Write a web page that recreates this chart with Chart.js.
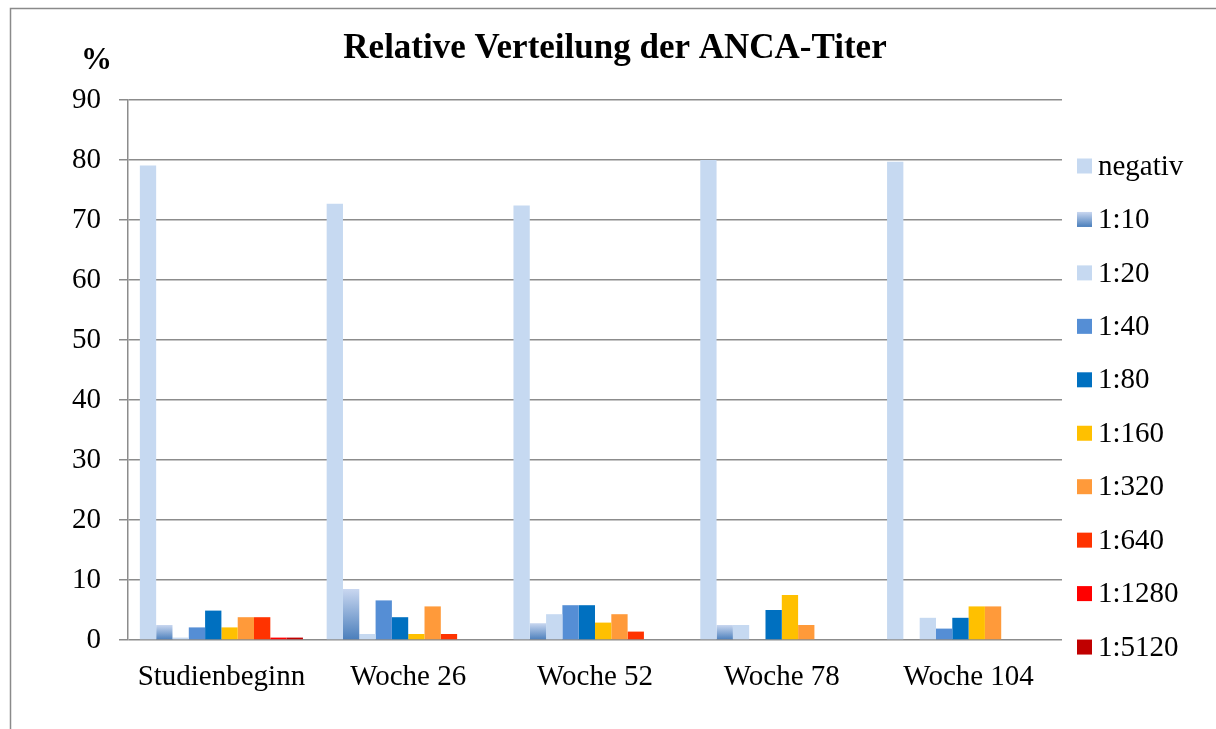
<!DOCTYPE html>
<html>
<head>
<meta charset="utf-8">
<title>Relative Verteilung der ANCA-Titer</title>
<script src="https://cdn.jsdelivr.net/npm/chart.js@4.4.1/dist/chart.umd.min.js"></script>
<style>
  html, body { margin: 0; padding: 0; background: #fff; }
  #chart { display: block; }
</style>
</head>
<body>
<canvas id="chart" width="1216" height="729"></canvas>
<script>
// Categories and tick labels
const categories = ['Studienbeginn', 'Woche 26', 'Woche 52', 'Woche 78', 'Woche 104'];
const titers = ['negativ', '1:10', '1:20', '1:40', '1:80', '1:160', '1:320', '1:640', '1:1280', '1:5120'];
const yTicks = [0, 10, 20, 30, 40, 50, 60, 70, 80, 90];

// Series values (%)
const negativ = [79.1, 72.7, 72.4, 80.0, 79.7];
const t10 = [2.5, 8.5, 2.8, 2.5, 0];
const t20 = [0.4, 1.0, 4.3, 2.5, 3.7];
const t40 = [2.1, 6.6, 5.8, 0, 1.9];
const t80 = [4.9, 3.8, 5.8, 5.0, 3.7];
const t160 = [2.1, 1.0, 2.9, 7.5, 5.6];
const t320 = [3.8, 5.6, 4.3, 2.5, 5.6];
const t640 = [3.8, 1.0, 1.4, 0, 0];
const t1280 = [0.4, 0, 0, 0, 0];
const t5120 = [0.4, 0, 0, 0, 0];

const series = [negativ, t10, t20, t40, t80, t160, t320, t640, t1280, t5120];
const colors = ['#C6D9F1', 'gradient', '#C6D9F1', '#558ED5', '#0070C0',
                '#FFC000', '#FF9A3A', '#FF3300', '#FF0000', '#C00000'];

const serif = "'Liberation Serif', 'Times New Roman', serif";
const gridGray = '#8c8c8c';

// vertical gradient for the 1:10 series, per bar
function blueGradient(c, top, bottom) {
  const g = c.createLinearGradient(0, top, 0, bottom);
  g.addColorStop(0, '#C9D7F0');
  g.addColorStop(1, '#4A7EBB');
  return g;
}

function barColor(i) {
  if (colors[i] !== 'gradient') return colors[i];
  return (ctx) => {
    const chart = ctx.chart;
    const y = chart.scales && chart.scales.y;
    if (!y || !chart.chartArea || ctx.raw === undefined) return '#8EABDA';
    const top = y.getPixelForValue(ctx.raw);
    const base = y.getPixelForValue(0);
    if (base - top < 1) return '#8EABDA';
    return blueGradient(chart.ctx, top, base);
  };
}

// Title, % label, legend and frame
const decoPlugin = {
  id: 'deco',
  afterDraw(chart) {
    const c = chart.ctx;
    c.save();

    // frame
    c.strokeStyle = '#8a8a8a';
    c.lineWidth = 1.5;
    c.beginPath();
    c.moveTo(10.5, 729);
    c.lineTo(10.5, 8.5);
    c.lineTo(1216, 8.5);
    c.stroke();

    // title
    c.fillStyle = '#000';
    c.font = 'bold 35px ' + serif;
    c.textAlign = 'center';
    c.textBaseline = 'alphabetic';
    c.fillText('Relative Verteilung der ANCA-Titer', 615, 58);

    // unit
    c.font = 'bold 31px ' + serif;
    c.fillText('%', 96.5, 69);

    // legend
    c.font = '29px ' + serif;
    c.textAlign = 'left';
    c.textBaseline = 'middle';
    chart.data.datasets.forEach((ds, i) => {
      const cy = 166 + i * 53.45;
      const bx = 1077, by = cy - 7.5;
      c.fillStyle = colors[i] === 'gradient' ? blueGradient(c, by, by + 15) : colors[i];
      c.fillRect(bx, by, 15, 15);
      c.fillStyle = '#000';
      c.fillText(ds.label, 1098, cy + 1);
    });

    c.restore();
  }
};

new Chart(document.getElementById('chart'), {
  type: 'bar',
  data: {
    labels: categories,
    datasets: titers.map((t, i) => ({
      label: t,
      data: series[i],
      backgroundColor: barColor(i),
      borderWidth: 0,
      categoryPercentage: 0.873,
      barPercentage: 1.0
    }))
  },
  options: {
    responsive: false,
    animation: false,
    layout: { padding: { top: 100, right: 154, left: 0, bottom: 0 } },
    plugins: {
      legend: { display: false },
      title: { display: false },
      tooltip: { enabled: false }
    },
    scales: {
      x: {
        grid: { display: false, drawTicks: false },
        border: { display: false },
        ticks: {
          color: '#000',
          font: { family: serif, size: 29 },
          padding: 20,
          maxRotation: 0
        },
        afterFit: (scale) => { scale.height = 89; }
      },
      y: {
        min: 0,
        max: 90,
        afterBuildTicks: (scale) => { scale.ticks = yTicks.map(v => ({ value: v })); },
        grid: { color: gridGray, lineWidth: 1.5, tickLength: 9 },
        border: { color: gridGray, width: 1.5 },
        ticks: {
          color: '#000',
          font: { family: serif, size: 29 },
          padding: 18
        },
        afterFit: (scale) => { scale.width = 128; }
      }
    }
  },
  plugins: [decoPlugin]
});
</script>
</body>
</html>
